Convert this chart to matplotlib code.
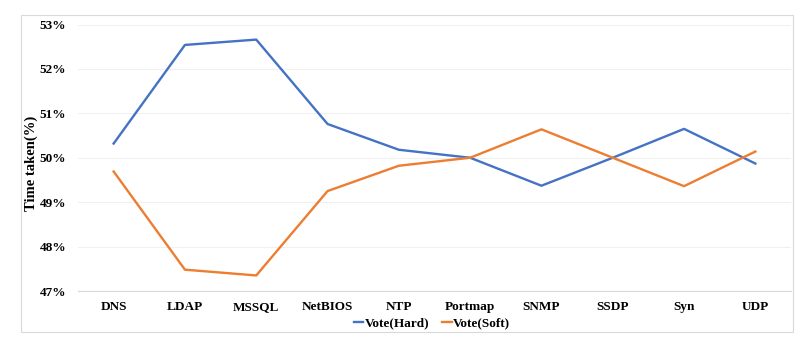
import matplotlib.pyplot as plt
from matplotlib.patches import Rectangle
from matplotlib.ticker import FuncFormatter

categories = ['DNS', 'LDAP', 'MSSQL', 'NetBIOS', 'NTP', 'Portmap', 'SNMP', 'SSDP', 'Syn', 'UDP']
vote_hard = [50.32, 52.54, 52.66, 50.76, 50.18, 50.0, 49.37, 50.0, 50.65, 49.87]
vote_soft = [49.69, 47.48, 47.35, 49.25, 49.82, 50.0, 50.64, 50.0, 49.36, 50.14]

plt.rcParams['font.family'] = ['Liberation Serif', 'DejaVu Serif']
plt.rcParams['font.weight'] = 'bold'

fig = plt.figure(figsize=(8.08, 3.49), dpi=100)
ax = fig.add_axes([78 / 808, 1 - 291 / 349, (791 - 78) / 808, (291 - 24.5) / 349])

x = range(len(categories))
ax.plot(x, vote_hard, color='#4472C4', lw=1.7, label='Vote(Hard)')
ax.plot(x, vote_soft, color='#ED7D31', lw=1.7, label='Vote(Soft)')

ax.set_xlim(-0.5, len(categories) - 0.5)
ax.set_ylim(47, 53)
ax.set_yticks(range(47, 54))
ax.yaxis.set_major_formatter(FuncFormatter(lambda v, p: f'{v:.0f}%'))
ax.set_xticks(list(x))
ax.set_xticklabels(categories)
ax.tick_params(axis='both', length=0, labelsize=9.5)
ax.tick_params(axis='x', pad=7)
ax.tick_params(axis='y', pad=8.5)
ax.grid(axis='y', color='#f0f0f0', lw=0.8)
ax.set_axisbelow(True)
for s in ['top', 'right', 'left']:
    ax.spines[s].set_visible(False)
ax.spines['bottom'].set_color('#d9d9d9')
ax.spines['bottom'].set_linewidth(0.8)

ax.set_ylabel('Time taken(%)', fontsize=10.5, fontweight='bold')
ax.yaxis.set_label_coords((37.5 - 78) / 713, 0.48)

fig.legend(loc='center', bbox_to_anchor=(432 / 808, 1 - 323 / 349), ncol=2, frameon=False,
           fontsize=9.5, handlelength=0.7, handletextpad=0.1, columnspacing=1.0)

fig.patches.append(Rectangle((21 / 808, 1 - 332 / 349), (793 - 21) / 808, (332 - 15) / 349,
                             transform=fig.transFigure, fill=False, edgecolor='#d9d9d9', lw=0.8))

fig.savefig('out.png', dpi=100)
